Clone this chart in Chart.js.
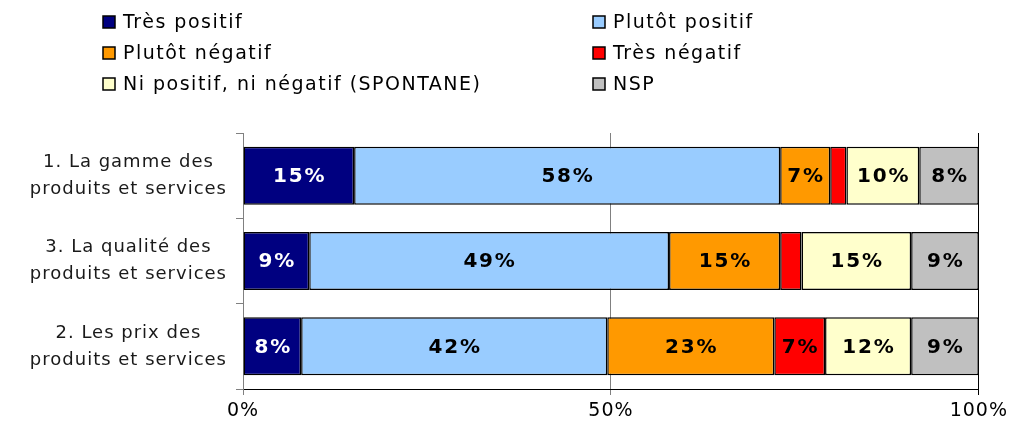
<!DOCTYPE html>
<html>
<head>
<meta charset="utf-8">
<script src="https://cdn.jsdelivr.net/npm/chart.js@4.4.1/dist/chart.umd.min.js"></script>
<style>
html,body{margin:0;padding:0;background:#fff;}
#wrap{width:1013px;height:426px;position:relative;}
</style>
</head>
<body>
<div id="wrap"><canvas id="c" width="1013" height="426"></canvas></div>
<script>
const categories = [
  ["1. La gamme des", "produits et services"],
  ["3. La qualité des", "produits et services"],
  ["2. Les prix des", "produits et services"]
];
const seriesNames = ["Très positif", "Plutôt positif", "Plutôt négatif", "Très négatif", "Ni positif, ni négatif (SPONTANE)", "NSP"];
const tresPositif = [15.1, 9.0, 7.9];
const plutotPositif = [57.9, 48.9, 41.6];
const plutotNegatif = [6.8, 15.1, 22.7];
const tresNegatif = [2.2, 2.9, 6.9];
const niPositifNiNegatif = [9.9, 14.9, 11.7];
const nsp = [8.1, 9.2, 9.2];
const xTicks = [0, 50, 100];

const colors = ["#000080", "#99CCFF", "#FF9900", "#FF0000", "#FFFFCC", "#C0C0C0"];
const labelColors = ["#FFFFFF", "#000000", "#000000", "#000000", "#000000", "#000000"];
const allValues = [tresPositif, plutotPositif, plutotNegatif, tresNegatif, niPositifNiNegatif, nsp];
const FONT = "'DejaVu Sans', Verdana, sans-serif";

const datasets = allValues.map((vals, i) => ({
  label: seriesNames[i],
  data: vals,
  backgroundColor: colors[i],
  borderColor: "#000000",
  borderWidth: 1.5,
  borderSkipped: false,
  barPercentage: 0.68,
  categoryPercentage: 1.0
}));

const spacing = {
  id: 'spacing',
  beforeLayout(chart) { chart.ctx.letterSpacing = '1px'; },
  beforeDraw(chart) { chart.ctx.letterSpacing = '1px'; }
};

const valueLabels = {
  id: 'valueLabels',
  afterDatasetsDraw(chart) {
    const ctx = chart.ctx;
    ctx.save();
    const ls = 1.8;
    ctx.letterSpacing = ls + 'px';
    ctx.font = "bold 20px " + FONT;
    ctx.textAlign = 'center';
    ctx.textBaseline = 'middle';
    chart.data.datasets.forEach((ds, di) => {
      const meta = chart.getDatasetMeta(di);
      meta.data.forEach((bar, j) => {
        const v = ds.data[j];
        if (v < 4) return;
        const p = bar.getProps(['x', 'y', 'base'], true);
        ctx.fillStyle = labelColors[di];
        ctx.fillText(Math.round(v) + '%', (p.x + p.base) / 2 + ls / 2, p.y + 1);
      });
    });
    ctx.restore();
  }
};

const customLegend = {
  id: 'customLegend',
  afterDraw(chart) {
    const ctx = chart.ctx;
    ctx.save();
    ctx.letterSpacing = '1.5px';
    ctx.font = "19px " + FONT;
    ctx.textBaseline = 'middle';
    ctx.textAlign = 'left';
    const cols = [103, 593];
    const rows = [22, 53, 84];
    seriesNames.forEach((name, i) => {
      const cx = cols[i % 2];
      const cy = rows[Math.floor(i / 2)];
      ctx.fillStyle = colors[i];
      ctx.fillRect(cx, cy - 6, 12, 12);
      ctx.strokeStyle = "#000";
      ctx.lineWidth = 1.5;
      ctx.strokeRect(cx, cy - 6, 12, 12);
      ctx.fillStyle = "#000";
      ctx.fillText(name, cx + 20, cy + 1);
    });
    ctx.restore();
  }
};

new Chart(document.getElementById('c'), {
  type: 'bar',
  data: { labels: categories, datasets },
  options: {
    indexAxis: 'y',
    responsive: false,
    animation: false,
    layout: { padding: { top: 133, left: 0, right: 34, bottom: 0 } },
    plugins: { legend: { display: false }, tooltip: { enabled: false } },
    scales: {
      x: {
        stacked: true,
        min: 0, max: 100,
        afterBuildTicks(scale) { scale.ticks = xTicks.map(v => ({ value: v })); },
        afterFit(scale) { scale.height = 37; },
        ticks: {
          callback: v => v + '%',
          font: { family: FONT, size: 19 },
          color: '#000',
          padding: 5,
          maxRotation: 0
        },
        grid: {
          color: ctx => ctx.tick && ctx.tick.value === 100 ? '#000' : '#808080',
          lineWidth: 1,
          tickLength: 6
        },
        border: { color: '#000', width: 1 }
      },
      y: {
        stacked: true,
        afterFit(scale) { scale.width = 243; },
        ticks: {
          font: { family: FONT, size: 18, lineHeight: 1.5 },
          color: '#1a1a1a',
          crossAlign: 'center',
          padding: 9
        },
        grid: {
          drawOnChartArea: false,
          color: '#808080',
          tickLength: 7,
          offset: true
        },
        border: { color: '#808080', width: 1 }
      }
    }
  },
  plugins: [spacing, valueLabels, customLegend]
});
</script>
</body>
</html>
